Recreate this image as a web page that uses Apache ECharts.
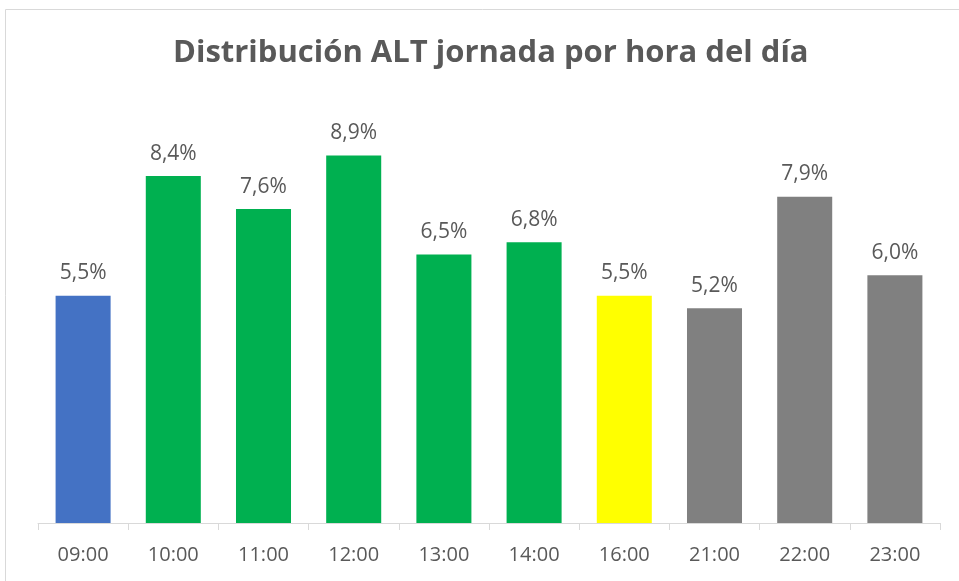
<!DOCTYPE html>
<html>
<head>
<meta charset="utf-8">
<script src="https://cdn.jsdelivr.net/npm/echarts@6/dist/echarts.min.js"></script>
<style>
  html, body { margin: 0; padding: 0; background: #fff; }
  #main { width: 959px; height: 581px; }
</style>
</head>
<body>
<div id="main"></div>
<script>
// hours and share of ALT per hour (%)
var hours = ['09:00', '10:00', '11:00', '12:00', '13:00', '14:00', '16:00', '21:00', '22:00', '23:00']
var shares = [5.5, 8.4, 7.6, 8.9, 6.5, 6.8, 5.5, 5.2, 7.9, 6.0]
var barColors = ['#4472C4', '#00B050', '#00B050', '#00B050', '#00B050', '#00B050', '#FFFF00', '#808080', '#808080', '#808080']

var chart = echarts.init(document.getElementById('main'))
var font = '"Open Sans", "Noto Sans", sans-serif'

chart.setOption({
  animation: false,
  title: {
    text: 'Distribución ALT jornada por hora del día',
    left: 168,
    top: 33,
    textStyle: {
      fontFamily: font,
      fontSize: 31,
      fontWeight: 'bold',
      color: '#595959'
    }
  },
  graphic: [{
    type: 'rect',
    shape: { x: 5.5, y: 9.5, width: 1000, height: 600 },
    style: { fill: 'none', stroke: '#d9d9d9', lineWidth: 1 },
    silent: true
  }],
  grid: {
    left: 38,
    right: 19,
    top: 110,
    bottom: 58
  },
  xAxis: {
    type: 'category',
    data: hours,
    axisLine: { lineStyle: { color: '#d9d9d9', width: 1 } },
    axisTick: { show: true, alignWithLabel: false, length: 7, lineStyle: { color: '#d9d9d9' } },
    axisLabel: {
      fontFamily: font,
      fontSize: 20,
      color: '#595959',
      margin: 22
    }
  },
  yAxis: {
    type: 'value',
    min: 0,
    max: 10,
    interval: 1,
    show: false,
    splitLine: { show: false }
  },
  series: [{
    type: 'bar',
    barWidth: '61%',
    data: shares.map(function(v, i) {
      return { value: v, itemStyle: { color: barColors[i] } }
    }),
    label: {
      show: true,
      position: 'top',
      distance: 12,
      fontFamily: font,
      fontSize: 21,
      color: '#595959',
      formatter: function(p) {
        return p.value.toFixed(1).replace('.', ',') + '%'
      }
    }
  }]
})
</script>
</body>
</html>
